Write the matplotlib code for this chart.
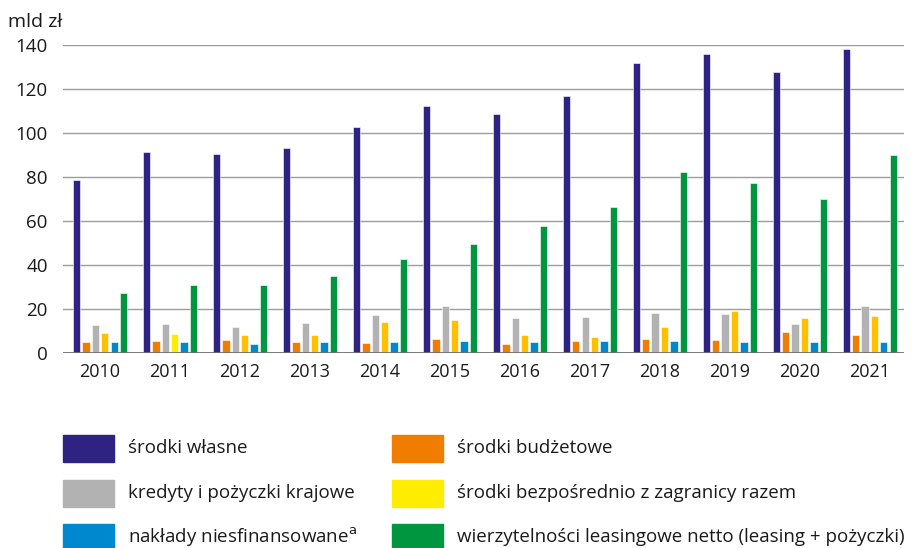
import numpy as np
import matplotlib.pyplot as plt
from matplotlib.patches import Rectangle

plt.rcParams['font.family'] = ['Open Sans', 'DejaVu Sans']

# Lata i wartości (mld zł)
years = ['2010', '2011', '2012', '2013', '2014', '2015', '2016', '2017', '2018', '2019', '2020', '2021']
srodki_wlasne = [78.7, 91.4, 90.5, 93.4, 102.5, 112.3, 108.8, 116.8, 132.0, 135.9, 127.9, 138.2]
srodki_budzetowe = [5.0, 5.4, 5.8, 4.9, 4.5, 6.5, 4.1, 5.3, 6.5, 6.1, 9.4, 8.0]
kredyty = [12.9, 13.3, 12.0, 13.7, 17.4, 21.2, 16.0, 16.3, 18.2, 17.9, 13.3, 21.2]
zagranica = [8.9, 8.8, 8.2, 8.4, 13.9, 15.1, 8.0, 7.3, 12.0, 19.1, 16.0, 16.8]
niesfinansowane = [5.0, 5.0, 4.1, 4.9, 4.8, 5.3, 4.8, 5.3, 5.3, 5.0, 5.0, 4.8]
leasing = [27.2, 31.0, 31.0, 35.1, 42.7, 49.6, 57.7, 66.4, 82.2, 77.2, 69.9, 89.8]

labels = ['środki własne', 'kredyty i pożyczki krajowe', r'nakłady niesfinansowane$^{\mathrm{a}}$',
          'środki budżetowe', 'środki bezpośrednio z zagranicy razem',
          'wierzytelności leasingowe netto (leasing + pożyczki)']
series = [srodki_wlasne, kredyty, niesfinansowane, srodki_budzetowe, zagranica, leasing]
colors = ['#2e2382', '#b2b2b2', '#0088ce', '#f07d00', '#ffed00', '#009640']
# kolejność słupków w grupie
bar_order = [0, 3, 1, 4, 2, 5]
# słupki "zagranica" są złote, tylko 2011 żółty
yellow_bars = ['#ffc000'] * len(years)
yellow_bars[1] = '#ffed00'

fig = plt.figure(figsize=(9.19, 5.48), dpi=100)
ax = fig.add_axes([0.0686, 0.3558, 0.9151, 0.5621])

x = np.arange(len(years))
step = 0.134
width = 0.105
for pos, idx in enumerate(bar_order):
    c = yellow_bars if idx == 4 else colors[idx]
    ax.bar(x + (pos - 2.5) * step, series[idx], width, color=c,
           edgecolor='white', linewidth=0.4, zorder=3)

ax.set_xlim(-0.53, len(years) - 0.51)
ax.set_ylim(0, 140)
ax.set_yticks(np.arange(0, 141, 20))
ax.set_xticks(x)
ax.set_xticklabels(years)
ax.tick_params(length=0, labelsize=13, colors='#1a1a1a')
ax.tick_params(axis='y', pad=11, labelsize=13.5)
ax.tick_params(axis='x', pad=7)
ax.grid(axis='y', color='#9d9d9d', linewidth=1.0, zorder=0)
for s in ax.spines.values():
    s.set_visible(False)
ax.axhline(0, color='#6f6f6f', linewidth=2, zorder=4)

fig.text(0.009, 1 - 22 / 548, 'mld zł', fontsize=14, color='#1a1a1a', va='center')

# legenda
W, H = 919, 548
rows_y = [448, 493, 537]
cols_x = [63, 392]
for i, (lab, col) in enumerate(zip(labels, colors)):
    cx = cols_x[i // 3]
    cy = rows_y[i % 3]
    fig.add_artist(Rectangle((cx / W, 1 - (cy + 13.5) / H), 51 / W, 27 / H,
                             transform=fig.transFigure, color=col))
    fig.text((cx + 65) / W, 1 - cy / H, lab, fontsize=13.5, color='#1a1a1a', va='center')

plt.savefig('out.png', dpi=100)
